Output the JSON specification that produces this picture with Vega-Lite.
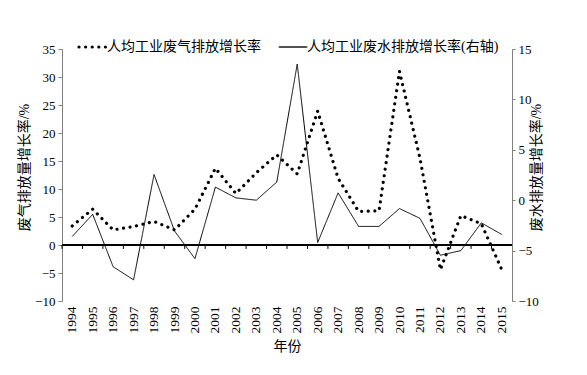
{
  "$schema": "https://vega.github.io/schema/vega-lite/v6.json",
  "autosize": {"type": "none"},
  "padding": {"left": 62, "top": 49, "right": 75, "bottom": 74},
  "width": 450,
  "height": 252,
  "background": "white",
  "config": {
    "view": {"stroke": null},
    "font": "Liberation Serif, Noto Sans CJK SC",
    "axis": {"labelFont": "Liberation Serif, Noto Sans CJK SC", "titleFont": "Liberation Serif, Noto Sans CJK SC", "labelColor": "black", "titleColor": "black", "titleFontWeight": "normal", "grid": false},
    "legend": {"labelFont": "Liberation Serif, Noto Sans CJK SC"}
  },
  "data": {
    "values": [
      {"year": "1994", "gas": 3.4, "water": -3.6},
      {"year": "1995", "gas": 6.4, "water": -1.4},
      {"year": "1996", "gas": 2.7, "water": -6.6},
      {"year": "1997", "gas": 3.3, "water": -7.9},
      {"year": "1998", "gas": 4.2, "water": 2.55},
      {"year": "1999", "gas": 2.7, "water": -3.05},
      {"year": "2000", "gas": 6.4, "water": -5.8},
      {"year": "2001", "gas": 13.7, "water": 1.3},
      {"year": "2002", "gas": 9.2, "water": 0.23},
      {"year": "2003", "gas": 12.9, "water": 0.0},
      {"year": "2004", "gas": 16.1, "water": 1.8},
      {"year": "2005", "gas": 12.7, "water": 13.5},
      {"year": "2006", "gas": 23.9, "water": -4.2},
      {"year": "2007", "gas": 11.9, "water": 0.73},
      {"year": "2008", "gas": 6.0, "water": -2.6},
      {"year": "2009", "gas": 6.1, "water": -2.6},
      {"year": "2010", "gas": 31.0, "water": -0.83},
      {"year": "2011", "gas": 15.5, "water": -1.8},
      {"year": "2012", "gas": -4.4, "water": -5.46},
      {"year": "2013", "gas": 5.25, "water": -5.0},
      {"year": "2014", "gas": 3.8, "water": -2.25},
      {"year": "2015", "gas": -4.4, "water": -3.4}
    ]
  },
  "encoding": {
    "x": {
      "field": "year",
      "type": "ordinal",
      "scale": {"type": "band", "paddingInner": 0, "paddingOuter": 0},
      "axis": {"title": "年份", "labelAngle": -90, "domain": false, "ticks": false, "labelPadding": 5, "labelFontSize": 13.5, "titleFontSize": 14, "titlePadding": 6}
    }
  },
  "layer": [
    {
      "layer": [
        {
          "mark": {"type": "line", "color": "black", "strokeWidth": 3.2, "strokeCap": "round"},
          "encoding": {
            "y": {
              "field": "gas",
              "type": "quantitative",
              "scale": {"domain": [-10, 35], "nice": false, "zero": false},
              "axis": {"orient": "left", "title": "废气排放量增长率/%", "titleY": 118, "values": [-10, -5, 0, 5, 10, 15, 20, 25, 30, 35], "labelOverlap": false, "domainColor": "#808080", "tickColor": "#808080", "tickSize": 4, "labelPadding": 3, "labelFontSize": 13, "titleFontSize": 14, "titlePadding": 3}
            },
            "strokeDash": {
              "datum": "人均工业废气排放增长率",
              "scale": {"domain": ["人均工业废气排放增长率", "人均工业废水排放增长率(右轴)"], "range": [[0.01, 6.6], [1, 0]]},
              "legend": {
                "orient": "none",
                "legendX": 24,
                "legendY": -9,
                "direction": "horizontal",
                "title": null,
                "symbolType": "stroke",
                "symbolSize": 784,
                "symbolStrokeColor": "black",
                "labelFontSize": 14,
                "labelColor": "black",
                "labelLimit": 400,
                "labelOffset": 7,
                "columnPadding": 16,
                "encode": {"symbols": {"update": {"strokeCap": {"value": "round"}, "strokeWidth": {"signal": "datum.value === '人均工业废气排放增长率' ? 3.2 : 1"}}}}
              }
            }
          }
        },
        {
          "mark": {"type": "rule", "color": "black", "strokeWidth": 1},
          "encoding": {
            "x": null,
            "y": {"datum": 0, "type": "quantitative", "scale": {"domain": [-10, 35], "nice": false, "zero": false},
              "axis": {"orient": "left", "title": "废气排放量增长率/%", "titleY": 118, "values": [-10, -5, 0, 5, 10, 15, 20, 25, 30, 35], "labelOverlap": false, "domainColor": "#808080", "tickColor": "#808080", "tickSize": 4, "labelPadding": 3, "labelFontSize": 13, "titleFontSize": 14, "titlePadding": 3}}
          }
        },
        {
          "mark": {"type": "rule", "color": "black", "strokeWidth": 1},
          "encoding": {
            "x": {"field": "year", "type": "ordinal", "bandPosition": 0},
            "y": {"datum": 0, "type": "quantitative", "scale": {"domain": [-10, 35], "nice": false, "zero": false},
              "axis": {"orient": "left", "title": "废气排放量增长率/%", "titleY": 118, "values": [-10, -5, 0, 5, 10, 15, 20, 25, 30, 35], "labelOverlap": false, "domainColor": "#808080", "tickColor": "#808080", "tickSize": 4, "labelPadding": 3, "labelFontSize": 13, "titleFontSize": 14, "titlePadding": 3}},
            "y2": {"datum": -0.7}
          }
        }
      ]
    },
    {
      "mark": {"type": "line", "color": "black", "strokeWidth": 1},
      "encoding": {
        "y": {
          "field": "water",
          "type": "quantitative",
          "scale": {"domain": [-10, 15], "nice": false, "zero": false},
          "axis": {"orient": "right", "title": "废水排放量增长率/%", "titleAngle": 270, "titleY": 118, "values": [-10, -5, 0, 5, 10, 15], "labelOverlap": false, "domainColor": "#808080", "tickColor": "#808080", "tickSize": 3, "labelPadding": 3, "labelFontSize": 13, "titleFontSize": 14, "titlePadding": 5}
        },
        "strokeDash": {"datum": "人均工业废水排放增长率(右轴)"}
      }
    }
  ],
  "resolve": {"scale": {"y": "independent"}, "axis": {"y": "independent"}}
}
